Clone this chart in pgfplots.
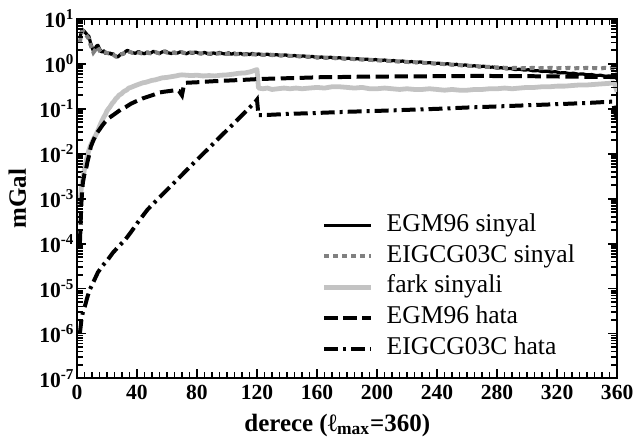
\documentclass[border=0pt]{standalone}
\usepackage{fontspec}
\setmainfont{Liberation Serif}
\usepackage{pgfplots}
\pgfplotsset{compat=1.18}
\usetikzlibrary{calc}
\definecolor{farkgray}{RGB}{195,195,195}
\definecolor{dotgray}{RGB}{128,128,128}
\begin{document}
\begin{tikzpicture}
\begin{semilogyaxis}[
  name=ax,
  width=270.5pt, height=180pt, scale only axis,
  xmin=0, xmax=360, ymin=1e-7, ymax=10,
  xtick={0,40,80,120,160,200,240,280,320,360},
  xticklabels={0,40,80,120,160,200,240,280,320,360},
  ytick={1e-7,1e-6,1e-5,1e-4,1e-3,1e-2,1e-1,1,10},
  yticklabels={10\textsuperscript{-7},10\textsuperscript{-6},10\textsuperscript{-5},10\textsuperscript{-4},10\textsuperscript{-3},10\textsuperscript{-2},10\textsuperscript{-1},10\textsuperscript{0},10\textsuperscript{1}},
  tick label style={font=\bfseries\fontsize{10.8}{12}\selectfont},
  yticklabel style={inner xsep=1pt},
  axis line style={line width=1pt},
  major tick length=4.5pt, minor tick length=3pt,
  tick style={line width=0.9pt, draw=black},
  xlabel={derece (ℓ\textsubscript{max}=360)},
  ylabel={mGal},
  label style={font=\bfseries\fontsize{12.5}{14}\selectfont},
  xlabel style={at={(axis description cs:0.482,-0.147)}, anchor=base},
  ylabel style={at={(axis description cs:-0.081,0.5)}, anchor=south},
  legend cell align=left,
  legend image code/.code={\draw[#1] (0pt,0pt) -- (23.5pt,0pt);},
  legend style={at={(axis description cs:0.453,0.46)}, anchor=north west,
    draw=none, fill=none, inner sep=0pt, row sep=3.2pt, column sep=6.5pt,
    font=\fontsize{12.8}{14}\selectfont,
    nodes={inner sep=0pt, text height=9pt, text depth=3.2pt}},
]
% EGM96 sinyal
\addplot[black, line width=1.6pt, line join=round] table {
2 3.8
3 5.2
4 5.7
5 5.3
6 4.8
7 4.4
8 4.1
9 3.0
10 2.4
11 1.9
12 2.1
13 2.5
14 2.6
15 2.2
16 1.9
17 1.85
18 1.95
19 1.72
20 1.82
21 1.68
22 1.76
23 1.62
24 1.7
25 1.55
26 1.5
27 1.42
28 1.5
29 1.62
30 1.7
31 1.64
32 1.82
33 1.95
34 2.0
35 1.84
37 1.78
39 1.72
41 1.88
43 1.76
45 1.68
47 1.84
49 1.74
51 1.9
53 1.78
55 1.7
57 1.86
59 1.92
61 1.76
63 1.7
65 1.82
67 1.74
69 1.86
71 1.75
73 1.68
75 1.82
77 1.72
79 1.84
81 1.74
83 1.68
85 1.8
87 1.7
89 1.64
91 1.76
93 1.68
95 1.8
97 1.7
99 1.66
101 1.76
103 1.64
105 1.74
107 1.62
109 1.72
111 1.6
113 1.7
115 1.62
117 1.71
119 1.6
121 1.67
124 1.58
127 1.65
130 1.54
133 1.61
136 1.52
139 1.59
142 1.48
145 1.54
148 1.45
151 1.51
154 1.42
157 1.47
160 1.36
163 1.43
166 1.35
169 1.41
172 1.32
175 1.38
178 1.29
181 1.34
184 1.26
187 1.31
190 1.24
193 1.28
196 1.21
199 1.25
202 1.18
205 1.22
208 1.15
211 1.19
214 1.12
217 1.16
220 1.09
223 1.13
226 1.07
229 1.11
232 1.04
235 1.07
238 1.01
241 1.04
244 0.98
247 1.01
250 0.95
253 0.98
256 0.92
259 0.95
262 0.89
265 0.91
268 0.86
271 0.89
274 0.84
277 0.85
280 0.81
283 0.82
286 0.78
289 0.79
292 0.75
295 0.76
298 0.73
301 0.74
304 0.70
307 0.71
310 0.68
313 0.69
316 0.66
319 0.67
322 0.63
325 0.64
328 0.61
331 0.62
334 0.59
337 0.6
340 0.57
343 0.58
346 0.55
349 0.56
352 0.53
355 0.54
358 0.52
360 0.47
};
\addlegendentry{EGM96 sinyal}
% EIGCG03C sinyal
\addplot[dotgray, line width=2pt, dash pattern=on 2.5pt off 2pt] table {
2 3.0
3 4.8
4 5.5
5 5.0
6 4.5
7 4.0
8 3.6
9 2.7
10 2.2
11 1.8
12 2.0
13 2.3
14 2.4
15 2.0
16 1.8
18 1.85
20 1.75
22 1.7
24 1.62
26 1.45
28 1.48
30 1.66
32 1.78
34 1.92
37 1.76
40 1.82
43 1.72
46 1.78
49 1.72
52 1.84
55 1.72
58 1.88
61 1.74
64 1.78
67 1.72
70 1.82
73 1.7
76 1.78
79 1.8
82 1.7
85 1.76
88 1.68
91 1.74
94 1.7
97 1.74
100 1.66
103 1.7
106 1.64
109 1.7
112 1.62
115 1.66
118 1.62
121 1.64
125 1.58
129 1.6
133 1.56
137 1.55
141 1.52
145 1.51
149 1.47
153 1.46
157 1.43
161 1.4
165 1.38
169 1.38
173 1.34
177 1.33
181 1.3
185 1.28
189 1.26
193 1.25
197 1.22
201 1.2
205 1.19
209 1.16
213 1.14
217 1.13
221 1.1
225 1.09
229 1.07
233 1.05
237 1.03
241 1.01
245 0.99
249 0.97
253 0.95
257 0.93
261 0.91
265 0.9
269 0.88
273 0.86
277 0.85
281 0.83
285 0.82
289 0.8
292 0.82
295 0.79
298 0.81
301 0.8
304 0.82
307 0.79
310 0.81
313 0.8
316 0.82
319 0.79
322 0.81
325 0.8
328 0.82
331 0.79
334 0.81
337 0.8
340 0.82
343 0.8
346 0.81
349 0.79
352 0.82
355 0.8
358 0.82
360 0.62
};
\addlegendentry{EIGCG03C sinyal}
% fark sinyali
\addplot[farkgray, line width=2.4pt, line join=round] table {
2 7e-4
2.5 1.2e-3
3 1.8e-3
4 2.8e-3
5 4.5e-3
6 6.5e-3
7 9e-3
8 0.012
9 0.015
10 0.018
11 0.021
12.6 0.026
14 0.033
15 0.04
16 0.048
17 0.057
18 0.066
19 0.075
20 0.09
21 0.1
22 0.11
23.7 0.135
25 0.15
26 0.17
27 0.18
28 0.2
29 0.21
30 0.22
31 0.24
32 0.25
33 0.26
34.6 0.29
36 0.3
38 0.32
40 0.34
42 0.36
44 0.38
46 0.39
48 0.41
50 0.43
52 0.44
54 0.46
57 0.49
60 0.5
63 0.52
66 0.54
68 0.56
70 0.57
73 0.56
76 0.55
80 0.56
84 0.54
88 0.55
92 0.54
96 0.56
100 0.57
104 0.59
108 0.62
112 0.63
115 0.66
117 0.69
119 0.73
120 0.75
121 0.29
124 0.28
127 0.29
130 0.27
134 0.28
138 0.29
142 0.28
146 0.29
150 0.28
155 0.29
160 0.3
165 0.29
170 0.31
175 0.31
180 0.3
185 0.29
190 0.3
195 0.28
200 0.28
205 0.29
210 0.28
215 0.27
220 0.28
225 0.27
230 0.27
235 0.28
240 0.27
245 0.26
250 0.27
255 0.26
260 0.26
265 0.27
270 0.27
275 0.28
280 0.28
285 0.29
290 0.28
295 0.29
300 0.3
305 0.3
310 0.31
315 0.31
320 0.32
325 0.32
330 0.33
335 0.34
340 0.34
345 0.35
350 0.36
355 0.37
358 0.38
360 0.24
};
\addlegendentry{fark sinyali}
% EGM96 hata
\addplot[black, line width=2pt, dash pattern=on 6.7pt off 2.8pt] table {
2 1e-4
2.5 3e-4
3 8e-4
3.5 1.5e-3
4 2.3e-3
5 3.5e-3
6 4.4e-3
7 6.5e-3
8 9e-3
9.3 0.0145
11 0.02
13 0.028
14.9 0.034
17 0.043
19 0.052
21.5 0.063
25 0.076
29 0.095
32.6 0.11
36 0.13
40 0.15
43.7 0.17
48 0.19
51 0.205
54.7 0.23
58 0.24
62 0.25
66 0.26
68 0.25
70 0.2
71 0.3
72.5 0.38
76 0.385
80 0.39
90 0.41
100 0.425
110 0.44
121 0.46
130 0.47
140 0.48
150 0.49
162 0.505
175 0.51
190 0.52
210 0.525
230 0.53
250 0.535
268 0.54
290 0.535
310 0.53
330 0.52
345 0.515
358 0.51
360 0.5
};
\addlegendentry{EGM96 hata}
% EIGCG03C hata
\addplot[black, line width=2pt, dash pattern=on 7pt off 2.5pt on 1.5pt off 2.5pt] table {
2 1e-6
3 2e-6
4 3e-6
5.3 4e-6
7 6.5e-6
8.6 9.5e-6
11 1.4e-5
14 2.3e-5
17 3.2e-5
20.6 4.4e-5
24 6.3e-5
28 8.8e-5
32 1.2e-4
36 1.8e-4
40 2.8e-4
44 4.2e-4
47 5.7e-4
55 1.07e-3
65 2.3e-3
75 5e-3
85 1.07e-2
95 2.3e-2
105 4.9e-2
115 0.106
119 0.145
120 0.16
121 0.072
130 0.074
140 0.077
160 0.081
180 0.086
200 0.09
220 0.095
240 0.1
260 0.107
280 0.113
300 0.12
320 0.127
340 0.135
357 0.145
360 0.055
};
\addlegendentry{EIGCG03C hata}
\end{semilogyaxis}
% tick marks drawn on the axis frame (decoration only)
\foreach \x in {5,10,...,355} {
  \draw[black, line width=0.7pt] ($(ax.south west)!\x/360!(ax.south east)$) -- ++(0,3pt);
  \draw[black, line width=0.7pt] ($(ax.north west)!\x/360!(ax.north east)$) -- ++(0,-3pt);
}
\foreach \x in {0,40,...,360} {
  \draw[black, line width=0.9pt] ($(ax.south west)!\x/360!(ax.south east)$) -- ++(0,4.5pt);
  \draw[black, line width=0.9pt] ($(ax.north west)!\x/360!(ax.north east)$) -- ++(0,-4.5pt);
}
\foreach \k in {0,...,8} {
  \draw[black, line width=0.9pt] ($(ax.south west)!\k/8!(ax.north west)$) -- ++(4.5pt,0);
  \draw[black, line width=0.9pt] ($(ax.south east)!\k/8!(ax.north east)$) -- ++(-4.5pt,0);
}
\foreach \k in {0,...,7} {
  \foreach \m in {2,...,9} {
    \pgfmathsetmacro\f{(\k+log10(\m))/8}
    \draw[black, line width=0.7pt] ($(ax.south west)!\f!(ax.north west)$) -- ++(3pt,0);
    \draw[black, line width=0.7pt] ($(ax.south east)!\f!(ax.north east)$) -- ++(-3pt,0);
  }
}
\path ([xshift=-38.5pt,yshift=-31.5pt]ax.south west) rectangle ([xshift=11pt,yshift=9.5pt]ax.north east);
\end{tikzpicture}
\end{document}
